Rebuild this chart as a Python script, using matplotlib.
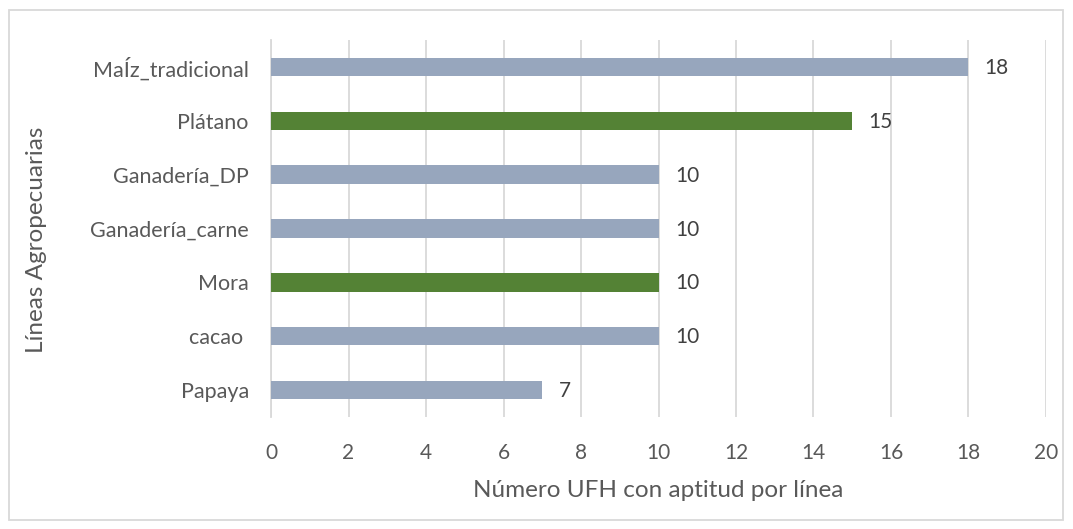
import matplotlib.pyplot as plt
from matplotlib.patches import Rectangle

# data
categories = ['MaÍz_tradicional', 'Plátano', 'Ganadería_DP', 'Ganadería_carne',
              'Mora', 'cacao ', 'Papaya']
values = [18, 15, 10, 10, 10, 10, 7]
highlight = [False, True, False, False, True, False, False]
x_ticks = [0, 2, 4, 6, 8, 10, 12, 14, 16, 18, 20]

gray_blue = '#97A6BD'
green = '#548235'
txt = '#595959'

plt.rcParams['font.family'] = ['Lato', 'DejaVu Sans']

fig = plt.figure(figsize=(10.73, 5.29), dpi=100)
ax = fig.add_axes([0.2526, 0.2117, 0.7222, 0.7127])

ypos = list(range(len(categories)))
colors = [green if h else gray_blue for h in highlight]
bars = ax.barh(ypos, values, height=0.34, color=colors, zorder=3)

for b, v in zip(bars, values):
    ax.text(v + 0.42, b.get_y() + b.get_height() / 2 + 0.02, str(v), va='center',
            ha='left', fontsize=15, color='#404040')

ax.set_ylim(len(categories) - 0.5, -0.5)
ax.set_xlim(0, 20)
ax.set_yticks(ypos)
ax.set_yticklabels(categories, fontsize=15.5, color=txt)
ax.set_xticks(x_ticks)
ax.set_xticklabels([str(t) for t in x_ticks], fontsize=15, color=txt)
ax.tick_params(axis='both', length=0)
ax.tick_params(axis='y', pad=16)
ax.tick_params(axis='x', pad=19)
ax.xaxis.grid(True, color='#D9D9D9', linewidth=1.3, zorder=0)

for s in ['top', 'right', 'bottom']:
    ax.spines[s].set_visible(False)
ax.spines['left'].set_color('#D9D9D9')
ax.spines['left'].set_linewidth(1.3)

ax.set_xlabel('Número UFH con aptitud por línea', fontsize=17.5, color=txt, labelpad=12)
fig.text(0.034, 0.546, 'Líneas Agropecuarias', rotation=90, fontsize=17.5,
         color=txt, ha='center', va='center')

fig.patches.append(Rectangle((0.008, 0.017), 0.983, 0.964, transform=fig.transFigure,
                             fill=False, edgecolor='#D9D9D9', linewidth=1.3))

fig.savefig('out.png', dpi=100, facecolor='white')
